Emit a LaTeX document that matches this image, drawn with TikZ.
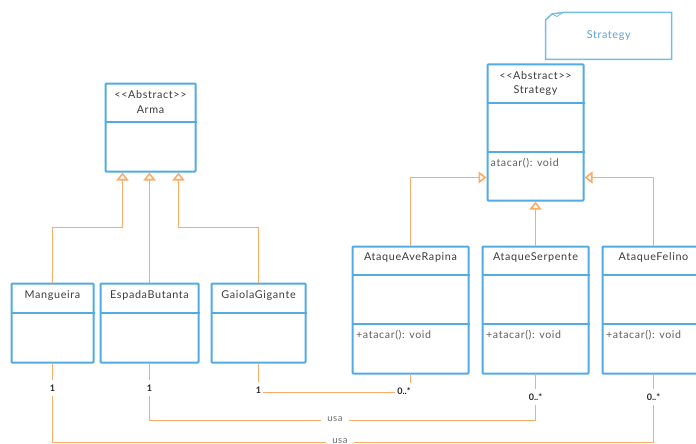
\documentclass[tikz,border=0pt]{standalone}
\usepackage{fontspec}
\newfontfamily\lato{Lato}[LetterSpace=6]
\newfontfamily\latoplain{Lato}
\usetikzlibrary{arrows.meta,calc}
\definecolor{boxblue}{RGB}{82,172,228}
\definecolor{notblue}{RGB}{92,160,216}
\definecolor{linorange}{RGB}{250,172,104}
\definecolor{titlegray}{RGB}{60,60,60}
\definecolor{methgray}{RGB}{95,95,95}
\definecolor{usagray}{RGB}{110,110,110}
\tikzset{
  cls/.style={draw=boxblue, line width=2pt, rectangle, inner sep=0pt, rounded corners=0.8pt},
  div/.style={draw=boxblue, line width=2pt},
  ttl/.style={font=\lato\fontsize{10.8}{12}\selectfont, text=titlegray, inner sep=0pt},
  meth/.style={font=\lato\fontsize{10.6}{12}\selectfont, text=methgray, inner sep=0pt, anchor=west},
  inh/.style={draw=linorange, line width=1.8pt, -{Triangle[open, length=8pt, width=12pt, line width=1.6pt]}},
  assoc/.style={draw=linorange, line width=1.8pt},
  mult/.style={font=\latoplain\bfseries\fontsize{9}{10}\selectfont, text=black!85, fill=white, inner xsep=2pt, inner ysep=5pt},
  usalbl/.style={font=\lato\fontsize{9.5}{10}\selectfont, text=usagray, fill=white, inner xsep=6pt, inner ysep=2pt},
  notebox/.style={draw=boxblue!80, line width=1.5pt},
}
\begin{document}
\begin{tikzpicture}[x=1pt, y=-1pt]
\useasboundingbox (0,0) rectangle (696,444);
\clip (0,0) rectangle (696,444);
\fill[white] (0,0) rectangle (696,444);

% note
\draw[notebox] (545.5,59.5) -- (545.5,20) -- (552,14) -- (563,12.5) -- (671.5,12.5) -- (671.5,59.5) -- cycle;
\draw[notebox, line width=0.8pt] (552,14) -- (557,16.5) -- (563,12.5);
\node[font=\lato\fontsize{10.8}{12}\selectfont, text=notblue, inner sep=0pt] (note) at (608.7,36) {Strategy};

% Arma
\node[cls, minimum width=90pt, minimum height=88pt] (arma) at (150.5,127.5) {};
\draw[div] ($(arma.north west)+(0,39)$) -- ($(arma.north east)+(0,39)$);
\node[ttl] (armast) at ($(arma.north)+(0,12.4)$) {<<Abstract>>};
\node[ttl] (armanm) at ($(arma.north)+(0,27.4)$) {Arma};

% Strategy
\node[cls, minimum width=96pt, minimum height=136pt] (strategy) at (535.5,132.5) {};
\draw[div] ($(strategy.north west)+(0,39)$) -- ($(strategy.north east)+(0,39)$);
\draw[div] ($(strategy.north west)+(0,88)$) -- ($(strategy.north east)+(0,88)$);
\node[ttl] (strst) at ($(strategy.north)+(0,12.4)$) {<<Abstract>>};
\node[ttl] (strnm) at ($(strategy.north)+(0,27.4)$) {Strategy};
\node[meth] (strm) at ($(strategy.north west)+(4,100)$) {atacar(): void};

% left row
\node[cls, minimum width=82pt, minimum height=79pt] (mangueira) at (52.5,323) {};
\node[cls, minimum width=98pt, minimum height=79pt] (espada) at (149.5,323) {};
\node[cls, minimum width=94pt, minimum height=79pt] (gaiola) at (258.5,323) {};
\foreach \n/\t in {mangueira/Mangueira, espada/EspadaButanta, gaiola/GaiolaGigante}{
  \draw[div] ($(\n.north west)+(0,30)$) -- ($(\n.north east)+(0,30)$);
  \node[ttl] (\n-t) at ($(\n.north)+(0,12.7)$) {\t};
}

% right row
\node[cls, minimum width=116pt, minimum height=127pt] (ave) at (410.5,310) {};
\node[cls, minimum width=106pt, minimum height=127pt] (serpente) at (535.5,310) {};
\node[cls, minimum width=102pt, minimum height=127pt] (felino) at (653.5,310) {};
\foreach \n/\t in {ave/AtaqueAveRapina, serpente/AtaqueSerpente, felino/AtaqueFelino}{
  \draw[div] ($(\n.north west)+(0,29)$) -- ($(\n.north east)+(0,29)$);
  \draw[div] ($(\n.north west)+(0,78)$) -- ($(\n.north east)+(0,78)$);
  \node[ttl] (\n-t) at ($(\n.north)+(0,11.6)$) {\t};
  \node[meth] (\n-m) at ($(\n.north west)+(4.5,89.3)$) {+atacar(): void};
}

% inheritance
\draw[inh] (mangueira.north) |- ($(arma.south)+(-28,55)$) -- ($(arma.south)+(-28,0)$);
\draw[inh] (espada.north) -- (espada.north |- arma.south);
\draw[inh] (gaiola.north) |- ($(arma.south)+(28,55)$) -- ($(arma.south)+(28,0)$);
\draw[inh] (ave.north) |- ($(strategy.south west)+(0,-24)$);
\draw[inh] (serpente.north) -- (serpente.north |- strategy.south);
\draw[inh] (felino.north) |- ($(strategy.south east)+(0,-24)$);

% associations
\draw[assoc] (gaiola.south) |- ($(ave.south)+(0,18)$) -- (ave.south);
\draw[assoc] (espada.south) |- ($(serpente.south)+(0,46)$) -- (serpente.south);
\draw[assoc] (mangueira.south) |- ($(felino.south)+(0,68)$) -- (felino.south);

% labels
\node[mult] (m1) at (52.5,388) {1};
\node[mult] (m2) at (149.5,388) {1};
\node[mult] (m3) at (258.5,390.5) {1};
\node[mult] (m4) at (404,391) {0..*};
\node[mult] (m5) at (535.5,397) {0..*};
\node[mult] (m6) at (653.5,397) {0..*};
\node[usalbl] (u1) at (335,419.5) {usa};
\node[usalbl] (u2) at (340,441.5) {usa};
\end{tikzpicture}
\end{document}
